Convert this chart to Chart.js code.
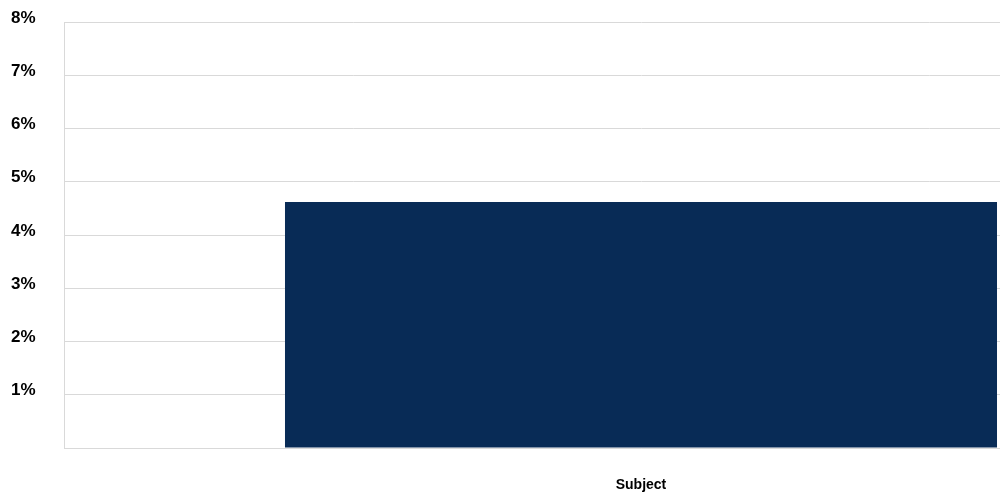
<!DOCTYPE html>
<html>
<head>
<meta charset="utf-8">
<script src="https://cdn.jsdelivr.net/npm/chart.js@4/dist/chart.umd.min.js"></script>
<style>
  html, body { margin: 0; padding: 0; background: #fff; overflow: hidden; }
  #wrap { width: 1220px; height: 497px; }
</style>
</head>
<body>
<div id="wrap"><canvas id="chart" width="1220" height="497"></canvas></div>
<script>
// Data
const categories = ['Subject'];
const values = [4.62];       // percent
const yTicks = [0, 1, 2, 3, 4, 5, 6, 7, 8];

const barColor = '#082b56';
const gridColor = '#d9d9d9';

const ctx = document.getElementById('chart').getContext('2d');
new Chart(ctx, {
  type: 'bar',
  data: {
    labels: categories,
    datasets: [{
      data: values,
      backgroundColor: barColor,
      barPercentage: 0.617,
      categoryPercentage: 1
    }]
  },
  options: {
    responsive: false,
    animation: false,
    layout: { padding: { top: 22, left: 11, right: 2, bottom: 0 } },
    plugins: { legend: { display: false }, tooltip: { enabled: false } },
    scales: {
      x: {
        grid: { display: false, drawTicks: false },
        border: { display: true, color: gridColor },
        ticks: {
          color: '#000',
          padding: 29,
          font: { family: 'Liberation Sans, Arial, sans-serif', size: 14, weight: 'bold' }
        },
        afterFit: (s) => { s.height = 49; }
      },
      y: {
        min: yTicks[0],
        max: yTicks[yTicks.length - 1],
        afterBuildTicks: (s) => { s.ticks = yTicks.map(v => ({ value: v })); },
        grid: { color: gridColor, drawTicks: false },
        border: { display: true, color: gridColor },
        ticks: {
          color: '#000',
          crossAlign: 'far',
          labelOffset: -4,
          font: { family: 'Liberation Sans, Arial, sans-serif', size: 17, weight: 'bold' },
          callback: (v) => v === 0 ? '' : v + '%'
        },
        afterFit: (s) => { s.width = 53; }
      }
    }
  }
});
</script>
</body>
</html>
